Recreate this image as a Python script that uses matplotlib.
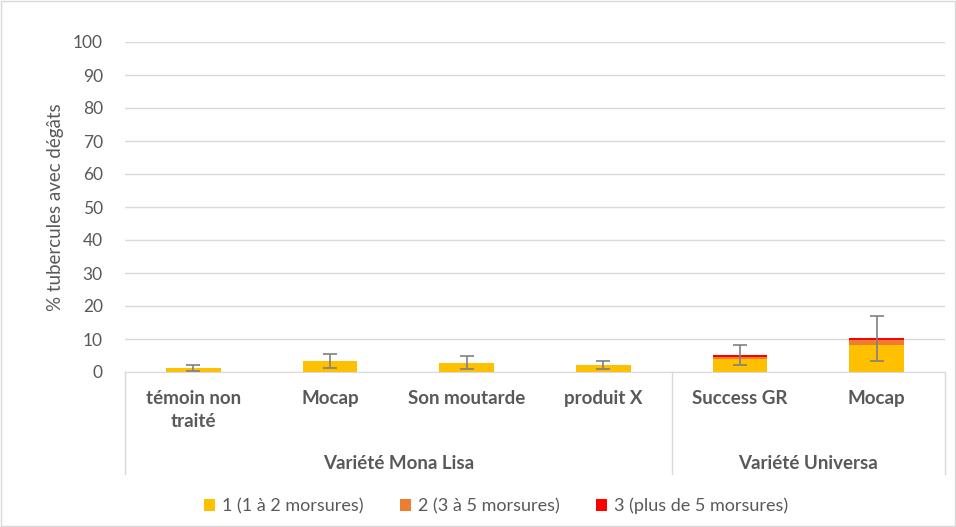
import matplotlib.pyplot as plt
import numpy as np

plt.rcParams['font.family'] = ['Lato', 'DejaVu Sans']

cats = ["témoin non\ntraité", "Mocap", "Son moutarde", "produit X", "Success GR", "Mocap"]
groups = ["Variété Mona Lisa", "Variété Universa"]
group_sizes = [4, 2]
s1 = [1.2, 3.3, 2.6, 2.0, 4.0, 8.3]
s2 = [0.0, 0.0, 0.2, 0.0, 0.6, 1.4]
s3 = [0.0, 0.0, 0.0, 0.0, 0.5, 0.5]
err = [0.8, 2.2, 2.0, 1.2, 3.0, 6.8]
labels = ["1 (1 à 2 morsures)", "2 (3 à 5 morsures)", "3 (plus de 5 morsures)"]
colors = ["#FFC000", "#ED7D31", "#FF0000"]
txt = "#595959"

fig = plt.figure(figsize=(9.56, 5.27), dpi=100)
ax = fig.add_axes([125/956, 1-372/527, 820/956, 330/527])

x = np.arange(len(cats))
s1 = np.array(s1); s2 = np.array(s2); s3 = np.array(s3)
w = 0.4
ax.bar(x, s1, w, color=colors[0], label=labels[0], zorder=2)
ax.bar(x, s2, w, bottom=s1, color=colors[1], label=labels[1], zorder=2)
ax.bar(x, s3, w, bottom=s1+s2, color=colors[2], label=labels[2], zorder=2)
tot = s1 + s2 + s3
ax.errorbar(x, tot, yerr=err, fmt='none', ecolor='#808080', elinewidth=1.2,
            capsize=5, capthick=1.2, zorder=3)

ax.set_xlim(-0.5, len(cats) - 0.5)
ax.set_ylim(0, 100)
ax.set_yticks(range(0, 101, 10))
ax.yaxis.grid(True, color='#D9D9D9', lw=1, zorder=0)
ax.set_axisbelow(True)
for s in ['top', 'right', 'left']:
    ax.spines[s].set_visible(False)
ax.spines['bottom'].set_color('#D9D9D9')
ax.tick_params(axis='y', length=0, colors=txt, labelsize=12.5, pad=16)
ax.tick_params(axis='x', length=0)
ax.set_xticks([])
ax.set_ylabel("% tubercules avec dégâts", color=txt, fontsize=13.5, labelpad=6)

# category labels and group lines
for i, c in enumerate(cats):
    ax.text(i, -5.5, c, ha='center', va='top', fontsize=13.5, fontweight='bold',
            color=txt, linespacing=1.45)
bounds = np.cumsum([0] + group_sizes) - 0.5
for b in bounds:
    ax.plot([b, b], [0, -31], color='#D9D9D9', lw=1, clip_on=False)
for g, a, b in zip(groups, bounds[:-1], bounds[1:]):
    ax.text((a + b) / 2, -27.6, g, ha='center', va='center', fontsize=13.5,
            fontweight='bold', color=txt)

leg = fig.legend(loc='center', bbox_to_anchor=(496/956, 1-506/527), ncol=3,
                 frameon=False, fontsize=13, handlelength=0.6, handleheight=0.6,
                 columnspacing=2.0, handletextpad=0.4)
for t in leg.get_texts():
    t.set_color(txt)

fig.patches.append(plt.Rectangle((0.001, 0.001), 0.998, 0.998, transform=fig.transFigure,
                                 fill=False, edgecolor='#D9D9D9', lw=1))
fig.savefig("out.png", dpi=100)
